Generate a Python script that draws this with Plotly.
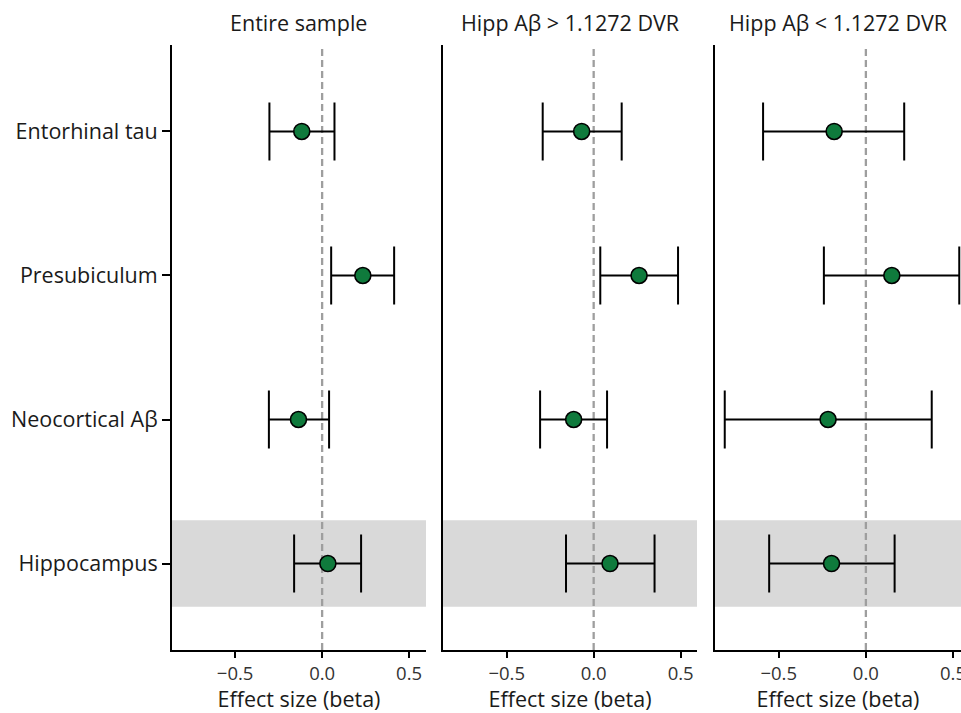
import plotly.graph_objects as go

categories = ["Entorhinal tau", "Presubiculum", "Neocortical Aβ", "Hippocampus"]
panel_titles = ["Entire sample", "Hipp Aβ > 1.1272 DVR", "Hipp Aβ < 1.1272 DVR"]

est_entire = [-0.117, 0.234, -0.136, 0.033]
lo_entire = [-0.303, 0.052, -0.306, -0.161]
hi_entire = [0.071, 0.414, 0.040, 0.224]

est_high = [-0.069, 0.261, -0.115, 0.094]
lo_high = [-0.293, 0.038, -0.308, -0.159]
hi_high = [0.161, 0.485, 0.077, 0.350]

est_low = [-0.182, 0.149, -0.217, -0.197]
lo_low = [-0.590, -0.241, -0.810, -0.555]
hi_low = [0.220, 0.536, 0.378, 0.165]

highlight = "Hippocampus"
x_ticks = [-0.5, 0.0, 0.5]
x_ticklabels = ["\u22120.5", "0.0", "0.5"]

panels = [
    (est_entire, lo_entire, hi_entire),
    (est_high, lo_high, hi_high),
    (est_low, lo_low, hi_low),
]

FONT = "Open Sans"
domains = [[0.0, 0.3219], [0.3435, 0.6654], [0.6882, 1.0]]
xranges = [[-0.863, 0.597], [-0.866, 0.594], [-0.866, 0.546]]
cat_order = list(reversed(categories))

fig = go.Figure()
shapes = []
annotations = []

for i, (est, lo, hi) in enumerate(panels):
    sfx = "" if i == 0 else str(i + 1)
    xa = "x" + sfx
    ya = "y" + sfx
    fig.add_trace(go.Scatter(
        x=est, y=categories, xaxis=xa, yaxis=ya, mode="markers",
        marker=dict(size=16, color="#0f7a3c", line=dict(color="black", width=1.6)),
        error_x=dict(type="data", symmetric=False,
                     array=[h - e for h, e in zip(hi, est)],
                     arrayminus=[e - l for e, l in zip(est, lo)],
                     color="black", thickness=2, width=29),
        showlegend=False, cliponaxis=False, hoverinfo="skip",
    ))
    hidx = cat_order.index(highlight)
    shapes.append(dict(type="rect", xref=xa + " domain", yref=ya,
                       x0=0, x1=1, y0=hidx - 0.3, y1=hidx + 0.3,
                       fillcolor="#d9d9d9", line=dict(width=0), layer="below"))
    shapes.append(dict(type="line", xref=xa, yref=ya + " domain",
                       x0=0, x1=0, y0=0, y1=1,
                       line=dict(color="#9e9e9e", width=2.3, dash="7px,4px"), layer="below"))
    annotations.append(dict(text=panel_titles[i], x=sum(domains[i]) / 2, y=1,
                            xref="paper", yref="paper", xanchor="center", yanchor="bottom",
                            yshift=6, showarrow=False,
                            font=dict(family=FONT, size=21.5, color="#1a1a1a")))
    xaxis = dict(domain=domains[i], range=xranges[i], anchor=ya, automargin=False,
                 tickvals=x_ticks, ticktext=x_ticklabels,
                 showline=True, linecolor="black", linewidth=2,
                 ticks="outside", ticklen=6, tickwidth=2, tickcolor="black",
                 showgrid=False, zeroline=False, ticklabeloverflow="allow",
                 tickfont=dict(family=FONT, size=18.5, color="#333333"),
                 title=dict(text="Effect size (beta)", standoff=4,
                            font=dict(family=FONT, size=21.5, color="#1a1a1a")))
    yaxis = dict(anchor=xa, type="category", categoryorder="array", automargin=False,
                 categoryarray=cat_order, range=[-0.6, 3.6],
                 showline=True, linecolor="black", linewidth=2,
                 showgrid=False, zeroline=False)
    if i == 0:
        yaxis.update(ticks="outside", ticklen=8, tickwidth=2, tickcolor="black",
                     tickfont=dict(family=FONT, size=21.5, color="#1a1a1a"))
    else:
        yaxis.update(showticklabels=False, ticks="", matches="y")
    fig.layout["xaxis" + sfx] = xaxis
    fig.layout["yaxis" + sfx] = yaxis

fig.update_layout(
    width=961, height=713,
    margin=dict(l=172, r=0, t=45, b=63),
    paper_bgcolor="white", plot_bgcolor="white",
    shapes=shapes, annotations=annotations,
    font=dict(family=FONT),
)

fig.write_html(
    "out.html",
    config={"displayModeBar": False},
    post_script="document.body.style.margin='0';document.body.style.overflow='hidden';",
)
